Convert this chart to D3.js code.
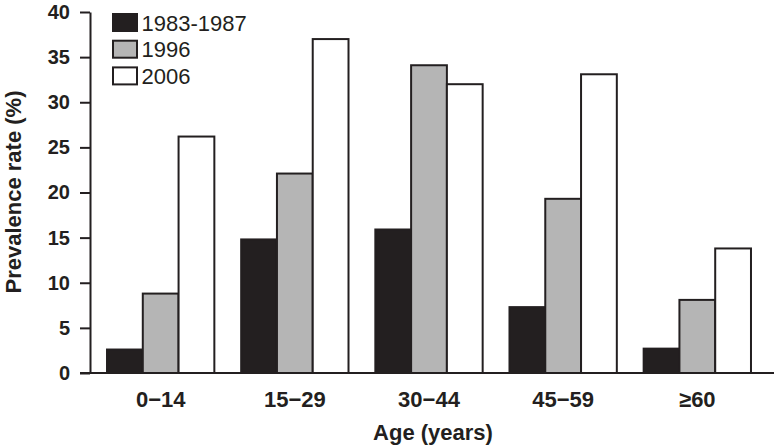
<!DOCTYPE html>
<html>
<head>
<meta charset="utf-8">
<script src="https://cdn.jsdelivr.net/npm/d3@7"></script>
<style>
  html, body { margin: 0; padding: 0; background: #fff; }
  svg { display: block; font-family: "Liberation Sans", Arial, sans-serif; }
</style>
</head>
<body>
<svg id="chart" width="774" height="445"></svg>
<script>
const categories = ["0\u221214", "15\u221229", "30\u221244", "45\u221259", "\u226560"];
const seriesNames = ["1983-1987", "1996", "2006"];
const values1983 = [2.6, 14.8, 15.9, 7.3, 2.7];
const values1996 = [8.8, 22.1, 34.1, 19.3, 8.1];
const values2006 = [26.2, 37.0, 32.0, 33.1, 13.8];
const yTicks = [0, 5, 10, 15, 20, 25, 30, 35, 40];
const fills = ["#231f20", "#b5b5b5", "#ffffff"];
const ink = "#231f20";

const seriesValues = [values1983, values1996, values2006];

const svg = d3.select("#chart");

const y = d3.scaleLinear().domain([0, 40]).range([373, 12]);
const x0 = d3.scaleBand().domain(categories).range([93.6, 764.4]).paddingInner(0.2).paddingOuter(0.1);
const x1 = d3.scaleBand().domain(seriesNames).range([0, x0.bandwidth()]).padding(0);

// bars
const groups = svg.append("g").selectAll("g")
  .data(categories)
  .join("g")
  .attr("transform", d => `translate(${x0(d)},0)`);

groups.selectAll("rect")
  .data((c, i) => seriesNames.map((s, j) => ({ s, j, v: seriesValues[j][i] })))
  .join("rect")
  .attr("x", d => x1(d.s))
  .attr("width", x1.bandwidth())
  .attr("y", d => y(d.v))
  .attr("height", d => y(0) - y(d.v))
  .attr("fill", d => fills[d.j])
  .attr("stroke", ink)
  .attr("stroke-width", 2);

// y axis
const yAxis = d3.axisLeft(y).tickValues(yTicks).tickSize(10).tickPadding(10).tickSizeOuter(0);
const yg = svg.append("g").attr("transform", "translate(90,0)").call(yAxis);
yg.select(".domain").attr("stroke", ink).attr("stroke-width", 2);
yg.selectAll(".tick line").attr("stroke", ink).attr("stroke-width", 2);
yg.selectAll(".tick text")
  .attr("fill", ink)
  .style("font-size", "20px")
  .style("font-weight", "bold")
  .style("font-family", '"Liberation Sans", Arial, sans-serif');

// x axis baseline
const xg = svg.append("g").attr("transform", `translate(0,${y(0)})`)
  .call(d3.axisBottom(x0).tickSize(0).tickPadding(12).tickSizeOuter(0));
xg.select(".domain").remove();
xg.append("line").attr("x1", 80).attr("x2", 774).attr("y1", 0).attr("y2", 0)
  .attr("stroke", ink).attr("stroke-width", 2);
xg.selectAll(".tick text")
  .attr("fill", ink)
  .attr("dy", "1em")
  .style("font-size", "22px")
  .style("font-weight", "bold")
  .style("font-family", '"Liberation Sans", Arial, sans-serif');

// axis titles
svg.append("text")
  .attr("x", 433).attr("y", 440)
  .attr("text-anchor", "middle")
  .attr("fill", ink)
  .style("font-size", "22px").style("font-weight", "bold")
  .text("Age (years)");

svg.append("text")
  .attr("transform", "translate(21,192) rotate(-90)")
  .attr("text-anchor", "middle")
  .attr("fill", ink)
  .style("font-size", "22px").style("font-weight", "bold")
  .text("Prevalence rate (%)");

// legend
const legend = svg.append("g").attr("transform", "translate(112,13)");
const li = legend.selectAll("g").data(seriesNames).join("g")
  .attr("transform", (d, i) => `translate(0,${i * 26.7})`);
li.append("rect").attr("x", 1).attr("y", 1).attr("width", 24).attr("height", 17)
  .attr("fill", (d, i) => fills[i]).attr("stroke", ink).attr("stroke-width", 2);
li.append("text").attr("x", 29.5).attr("y", 17.5)
  .attr("fill", ink)
  .style("font-size", "22px")
  .text(d => d);
</script>
</body>
</html>
